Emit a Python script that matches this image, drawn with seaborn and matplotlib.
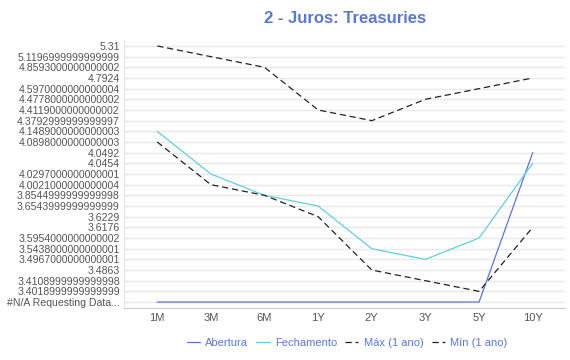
import pandas as pd
import matplotlib
matplotlib.use("Agg")
import matplotlib.pyplot as plt
import seaborn as sns

# Tenors on the x axis
tenors = ["1M", "3M", "6M", "1Y", "2Y", "3Y", "5Y", "10Y"]

# Series values as they come out of the sheet (strings, y axis is categorical)
NA = "#N/A Requesting Data..."
abertura = [NA, NA, NA, NA, NA, NA, NA, "4.0492"]
fechamento = ["4.1489000000000003", "4.0297000000000001", "3.8544999999999998",
              "3.6543999999999999", "3.5438000000000001", "3.4967000000000001",
              "3.5954000000000002", "4.0454"]
maximo = ["5.31", "5.1196999999999999", "4.8593000000000002", "4.4119000000000002",
          "4.3792999999999997", "4.4778000000000002", "4.5970000000000004", "4.7924"]
minimo = ["4.0898000000000003", "4.0021000000000004", "3.8544999999999998",
          "3.6229", "3.4863", "3.4108999999999998", "3.4018999999999999",
          "3.6176"]

series = [
    ("Abertura", abertura, "#5b74d9", "-"),
    ("Fechamento", fechamento, "#62cfe0", "-"),
    ("Máx (1 ano)", maximo, "#222222", (0, (5, 3))),
    ("Mín (1 ano)", minimo, "#222222", (0, (5, 3))),
]

# categorical y scale: numbers sorted descending, the #N/A text at the bottom
values = set(abertura + fechamento + maximo + minimo)
nums = sorted([v for v in values if v != NA], key=float, reverse=True)
y_order = nums + [NA]
y_pos = {v: i for i, v in enumerate(y_order)}

sns.set_style("white")
plt.rcParams["font.family"] = ["Liberation Sans", "DejaVu Sans"]

fig = plt.figure(figsize=(5.7, 3.6), dpi=100)
ax = fig.add_axes([0.2175, 0.1453, 0.7735, 0.7436])

for name, vals, color, ls in series:
    df = pd.DataFrame({"x": range(len(tenors)), "y": [y_pos[v] for v in vals]})
    sns.lineplot(data=df, x="x", y="y", ax=ax, color=color, linestyle=ls,
                 linewidth=0.9, label=name, legend=False)

ax.set_xticks(range(len(tenors)))
ax.set_xticklabels(tenors)
ax.set_yticks(range(len(y_order)))
ax.set_yticklabels(y_order)
ax.set_xlim(-0.62, 7.6)
ax.set_ylim(24.53, -0.56)
ax.set_xlabel("")
ax.set_ylabel("")
ax.tick_params(axis="both", length=0, labelcolor="#555555")
ax.tick_params(axis="x", pad=4, labelsize=8)
ax.tick_params(axis="y", pad=3, labelsize=7.6)

ax.yaxis.grid(True, color="#e9e9e9", linewidth=1)
ax.xaxis.grid(False)
ax.set_axisbelow(True)
for s in ["top", "right"]:
    ax.spines[s].set_visible(False)
ax.spines["left"].set_color("#e4e4e4")
ax.spines["bottom"].set_color("#cccccc")

fig.suptitle("2 - Juros: Treasuries", x=0.605, y=0.97, fontsize=12,
             fontweight="bold", color="#5a78d6")

handles, labels = ax.get_legend_handles_labels()
fig.legend(handles, labels, loc="center", bbox_to_anchor=(0.609, 0.047),
           ncol=4, frameon=False, fontsize=8, labelcolor="#5a78d6",
           handlelength=1.2, handletextpad=0.5, columnspacing=0.7)

fig.savefig("out.png", dpi=100)
